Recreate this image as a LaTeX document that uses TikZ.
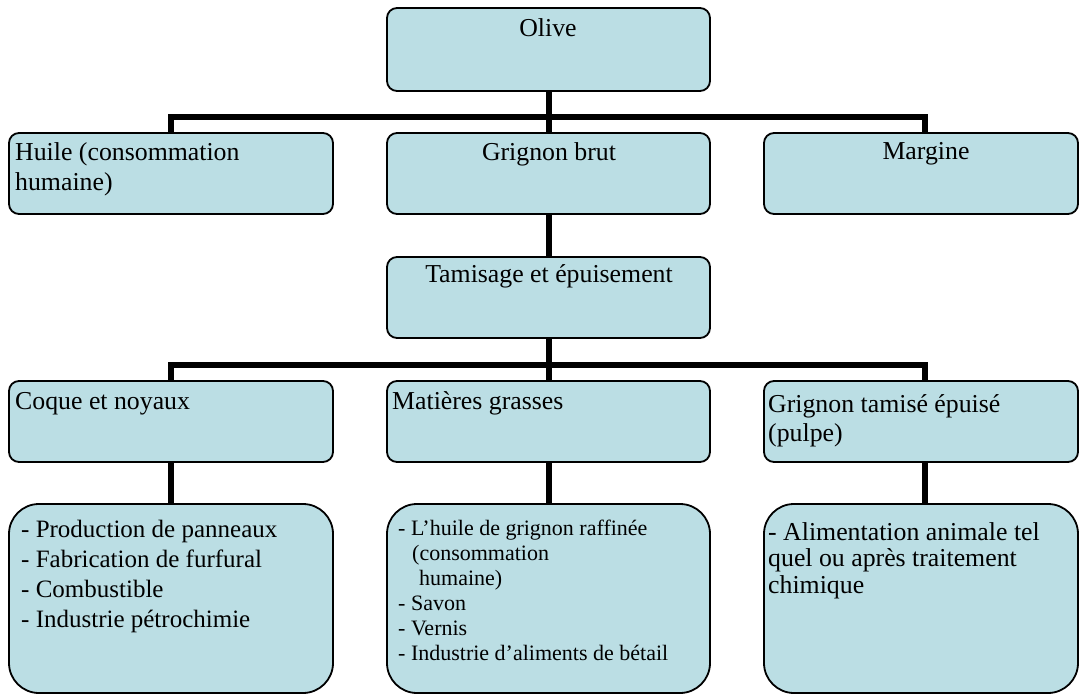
\documentclass[tikz,border=0pt]{standalone}
\usepackage{fontspec}
\setmainfont{Liberation Serif}
\definecolor{boxfill}{RGB}{187,222,228}
\begin{document}
\begin{tikzpicture}[x=1pt,y=-1pt,
  box/.style={draw=black, line width=1.8pt, fill=boxfill, rounded corners=10pt,
    anchor=north west, inner sep=0pt, outer sep=0pt},
  tallbox/.style={box, rounded corners=30pt},
  lbl/.style={font=\fontsize{25.8}{29.5}\selectfont, inner sep=0pt, align=left},
  listlbl/.style={font=\fontsize{25}{30}\selectfont, inner sep=0pt, align=left},
  smalllbl/.style={font=\fontsize{22}{25}\selectfont, inner sep=0pt, align=left},
  link/.style={line width=5.5pt}
]
\useasboundingbox (0,0) rectangle (1080,695);

% column axes of the connectors
\coordinate (colL) at (171,0);
\coordinate (colM) at (549,0);
\coordinate (colR) at (925,0);
\coordinate (bar1) at (549,117);
\coordinate (bar2) at (549,365);

% boxes
\node[box, minimum width=323pt, minimum height=83pt] (olive) at (387,8) {};
\node[box, minimum width=324pt, minimum height=81pt] (huile) at (9,133) {};
\node[box, minimum width=323pt, minimum height=81pt] (brut) at (387,133) {};
\node[box, minimum width=314pt, minimum height=81pt] (margine) at (764,133) {};
\node[box, minimum width=323pt, minimum height=81pt] (tamis) at (387,257) {};
\node[box, minimum width=324pt, minimum height=81pt] (coque) at (9,381) {};
\node[box, minimum width=323pt, minimum height=81pt] (grasses) at (387,381) {};
\node[box, minimum width=314pt, minimum height=81pt] (pulpe) at (764,381) {};
\node[tallbox, minimum width=324pt, minimum height=189pt] (prod) at (9,504) {};
\node[tallbox, minimum width=323pt, minimum height=189pt] (raff) at (387,504) {};
\node[tallbox, minimum width=314pt, minimum height=189pt] (alim) at (764,504) {};

% texts (multi-line texts are anchored on the baseline of their last line)
\node[lbl, anchor=base] (tOlive) at (548,37) {Olive};
\node[lbl, anchor=base west] (tHuile) at (15,190.5) {Huile (consommation\\humaine)};
\node[lbl, anchor=base] (tBrut) at (549,161) {Grignon brut};
\node[lbl, anchor=base] (tMargine) at (926,160) {Margine};
\node[lbl, anchor=base] (tTamis) at (549,283) {Tamisage et épuisement};
\node[lbl, anchor=base west] (tCoque) at (15,409) {Coque et noyaux};
\node[lbl, anchor=base west] (tGrasses) at (392,409) {Matières grasses};
\node[lbl, anchor=base west] (tPulpe) at (768,441.5) {Grignon tamisé épuisé\\(pulpe)};
\node[listlbl, anchor=base west] (tProd) at (21,627) {- Production de panneaux\\- Fabrication de furfural\\- Combustible\\- Industrie pétrochimie};
\node[smalllbl, anchor=base west] (tRaff) at (398,660) {- L’huile de grignon raffinée\\\hspace*{14pt}(consommation\\\hspace*{21pt}humaine)\\- Savon\\- Vernis\\- Industrie d’aliments de bétail};
\node[lbl, font=\fontsize{25.8}{26.5}\selectfont, anchor=base west] (tAlim) at (768,593) {- Alimentation animale tel\\quel ou après traitement\\chimique};

% connectors
\draw[link] (olive.south -| colM) -- (bar1);
\draw[link] (huile.north -| colL) |- (bar1) -| (margine.north -| colR);
\draw[link] (bar1) -- (brut.north -| colM);
\draw[link] (brut.south -| colM) -- (tamis.north -| colM);
\draw[link] (tamis.south -| colM) -- (bar2);
\draw[link] (coque.north -| colL) |- (bar2) -| (pulpe.north -| colR);
\draw[link] (bar2) -- (grasses.north -| colM);
\draw[link] (coque.south -| colL) -- (prod.north -| colL);
\draw[link] (grasses.south -| colM) -- (raff.north -| colM);
\draw[link] (pulpe.south -| colR) -- (alim.north -| colR);
\end{tikzpicture}
\end{document}
